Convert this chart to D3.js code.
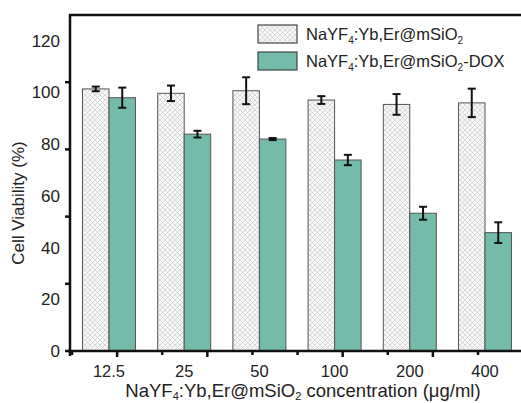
<!DOCTYPE html>
<html><head><meta charset="utf-8">
<script src="https://cdn.jsdelivr.net/npm/d3@7"></script>
<style>body{margin:0;background:#fff}svg{display:block}text{font-family:"Liberation Sans",Arial,sans-serif;fill:#222}</style>
</head><body><svg id="c" width="521" height="403"></svg>
<script>
const categories = ["12.5","25","50","100","200","400"];
const seriesNames = ["NaYF4:Yb,Er@mSiO2","NaYF4:Yb,Er@mSiO2-DOX"];
const plainValues = [101.4, 99.7, 100.7, 97.1, 95.4, 96.0];
const plainErrors = [0.9, 3.0, 5.2, 1.5, 4.0, 5.5];
const doxValues = [98.0, 83.9, 82.0, 73.9, 53.3, 45.8];
const doxErrors = [3.9, 1.3, 0.4, 2.0, 2.5, 4.0];
const yTickLabels = [0, 20, 40, 60, 80, 100, 120];
const yTickMarks = [0, 26, 52, 78, 104];

(function(){
const svg = d3.select("#c");
const pLeft = 70, pTop = 15, pBottom = 351, pRight = 521;
const y = d3.scaleLinear().domain([0, 130]).range([pBottom, pTop]);
const x = d3.scaleBand().domain(categories).range([71.4, 522.6]).paddingInner(0.295).paddingOuter(0.1475);
const xs = d3.scaleBand().domain([0,1]).range([0, x.bandwidth()]);

const defs = svg.append("defs");
const pat = defs.append("pattern").attr("id","hatch").attr("patternUnits","userSpaceOnUse")
  .attr("width",5).attr("height",5);
pat.append("rect").attr("width",5).attr("height",5).attr("fill","#f7f7f7");
pat.append("path").attr("d","M0,0L5,5M5,0L0,5").attr("stroke","#d0d0d0").attr("stroke-width",0.8);

const fills = ["url(#hatch)", "#74bba9"];
const series = [
  {vals: plainValues, errs: plainErrors},
  {vals: doxValues, errs: doxErrors}
];

series.forEach((s, si) => {
  const g = svg.append("g");
  g.selectAll("rect").data(categories).join("rect")
    .attr("x", (c) => x(c) + xs(si))
    .attr("y", (c, i) => y(s.vals[i]))
    .attr("width", xs.bandwidth())
    .attr("height", (c, i) => y(0) - y(s.vals[i]))
    .attr("fill", fills[si]).attr("stroke", "#555").attr("stroke-width", 1);
});
series.forEach((s, si) => {
  const g = svg.append("g").attr("stroke", "#111").attr("stroke-width", 2);
  categories.forEach((c, i) => {
    const cx = x(c) + xs(si) + xs.bandwidth()/2;
    const y1 = y(s.vals[i] + s.errs[i]), y2 = y(s.vals[i] - s.errs[i]);
    g.append("line").attr("x1",cx).attr("x2",cx).attr("y1",y1).attr("y2",y2);
    g.append("line").attr("x1",cx-4).attr("x2",cx+4).attr("y1",y1).attr("y2",y1);
    g.append("line").attr("x1",cx-4).attr("x2",cx+4).attr("y1",y2).attr("y2",y2);
  });
});

const ax = svg.append("g").attr("stroke","#111").attr("stroke-width",2.5);
ax.append("line").attr("x1",pLeft).attr("x2",pLeft).attr("y1",pTop-1).attr("y2",pBottom+5);
ax.append("line").attr("x1",pLeft-2).attr("x2",pRight).attr("y1",pBottom).attr("y2",pBottom);
ax.append("line").attr("x1",pLeft-1).attr("x2",pRight).attr("y1",pTop).attr("y2",pTop);

svg.append("g").selectAll("line").data(yTickMarks).join("line")
  .attr("x1",pLeft-5).attr("x2",pLeft).attr("y1",d=>y(d)).attr("y2",d=>y(d))
  .attr("stroke","#111").attr("stroke-width",2.5);
svg.append("g").selectAll("text").data(yTickLabels).join("text")
  .attr("x",60).attr("y",d=>y(d)).attr("dy","0.35em").attr("text-anchor","end")
  .attr("font-size",17).text(d=>d);

const xt = d3.scaleLinear().domain([0,9]).range([72,478]);
const longTicks = [1,3,6,8];
svg.append("g").selectAll("line").data(d3.range(10)).join("line")
  .attr("x1",d=>xt(d)).attr("x2",d=>xt(d)).attr("y1",pBottom)
  .attr("y2",d=>pBottom + (longTicks.includes(d)?6:4))
  .attr("stroke","#111").attr("stroke-width",2.5);
svg.append("g").selectAll("text").data(categories).join("text")
  .attr("x",c=>x(c)+x.bandwidth()/2).attr("y",371).attr("dy","0.35em")
  .attr("text-anchor","middle").attr("font-size",16.5).text(c=>c);

const xtitle = svg.append("text").attr("x",303).attr("y",397).attr("text-anchor","middle").attr("font-size",18.5);
xtitle.append("tspan").text("NaYF");
xtitle.append("tspan").attr("font-size",11).attr("dy",2.5).text("4");
xtitle.append("tspan").attr("dy",-2.5).text(":Yb,Er@mSiO");
xtitle.append("tspan").attr("font-size",11).attr("dy",2.5).text("2");
xtitle.append("tspan").attr("dy",-2.5).text(" concentration (\u03bcg/ml)");

svg.append("text").attr("transform","translate(24,203) rotate(-90)").attr("text-anchor","middle")
  .attr("font-size",17).text("Cell Viability (%)");

const lg = svg.append("g");
seriesNames.forEach((n, i) => {
  const yy = 25 + i*27;
  lg.append("rect").attr("x",258).attr("y",yy).attr("width",39).attr("height",18)
    .attr("fill",fills[i]).attr("stroke","#444").attr("stroke-width",1.2);
  const t = lg.append("text").attr("x",306).attr("y",yy+15).attr("font-size",16.5);
  t.append("tspan").text("NaYF");
  t.append("tspan").attr("font-size",10).attr("dy",4).text("4");
  t.append("tspan").attr("dy",-4).text(":Yb,Er@mSiO");
  t.append("tspan").attr("font-size",10).attr("dy",4).text("2");
  t.append("tspan").attr("dy",-4).text(i===1 ? "-DOX" : "");
});
})();
</script></body></html>
